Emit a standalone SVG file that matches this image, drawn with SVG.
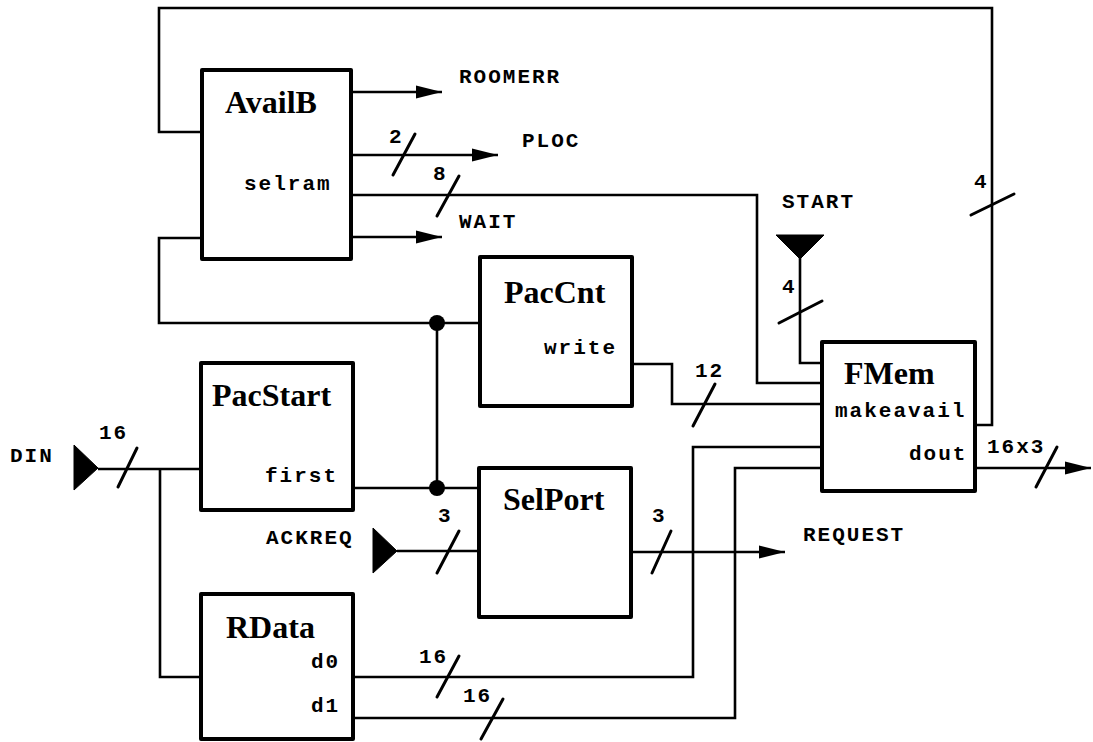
<svg xmlns="http://www.w3.org/2000/svg" width="1093" height="742" viewBox="0 0 1093 742">
<style>
.box{fill:#fff;stroke:#000;stroke-width:4;stroke-linejoin:round}
.w{fill:none;stroke:#000;stroke-width:2.6;stroke-linejoin:miter}
.sl{stroke:#000;stroke-width:3;stroke-linecap:round}
.t{font-family:"Liberation Serif","Times New Roman",serif;font-weight:bold;font-size:32px;fill:#000}
.m{font-family:"Liberation Mono","Courier New",monospace;font-weight:bold;font-size:21px;letter-spacing:2px;fill:#000}
.port{fill:#000;stroke:#000;stroke-width:1}
</style>
<defs>
<marker id="arr" viewBox="0 0 26 14" refX="26" refY="7" markerWidth="26" markerHeight="14" markerUnits="userSpaceOnUse" orient="auto">
<path d="M0,0.5 L26,7 L0,13.5 z" fill="#000"/>
</marker>
</defs>
<rect width="1093" height="742" fill="#fff"/>
<g id="connectors">
<path class="w" d="M975,425 H992 V8 H159 V132 H202"/>
<path class="w" d="M351,92 H442" marker-end="url(#arr)"/>
<path class="w" d="M351,155 H498" marker-end="url(#arr)"/>
<path class="w" d="M351,195 H757 V383 H822"/>
<path class="w" d="M351,237 H442" marker-end="url(#arr)"/>
<path class="w" d="M202,238 H159 V323 H480"/>
<path class="w" d="M437,323 V488"/>
<path class="w" d="M353,488 H479"/>
<path class="w" d="M632,364 H672 V404 H822"/>
<path class="w" d="M800,257 V363 H822"/>
<path class="w" d="M98,469 H201"/>
<path class="w" d="M160,469 V677 H201"/>
<path class="w" d="M397,551 H479"/>
<path class="w" d="M631,552 H785" marker-end="url(#arr)"/>
<path class="w" d="M353,677 H693 V447 H822"/>
<path class="w" d="M353,718 H735 V468 H822"/>
<path class="w" d="M975,468 H1091" marker-end="url(#arr)"/>
<circle cx="437" cy="323" r="8" fill="#000"/>
<circle cx="437" cy="488" r="8" fill="#000"/>
<line class="sl" x1="971" y1="215" x2="1014" y2="194"/>
<line class="sl" x1="393" y1="175" x2="415" y2="134"/>
<line class="sl" x1="437" y1="216" x2="459" y2="176"/>
<line class="sl" x1="693" y1="426" x2="715" y2="384"/>
<line class="sl" x1="779" y1="323" x2="822" y2="301"/>
<line class="sl" x1="118" y1="487" x2="137" y2="448"/>
<line class="sl" x1="437" y1="573" x2="459" y2="531"/>
<line class="sl" x1="652" y1="573" x2="671" y2="531"/>
<line class="sl" x1="437" y1="697" x2="459" y2="656"/>
<line class="sl" x1="481" y1="739" x2="503" y2="699"/>
<line class="sl" x1="1036" y1="487" x2="1057" y2="447"/>
<text class="m" x="974" y="188">4</text>
<text class="m" x="389" y="143">2</text>
<text class="m" x="433" y="180">8</text>
<text class="m" x="695" y="377">12</text>
<text class="m" x="782" y="293">4</text>
<text class="m" x="99" y="439">16</text>
<text class="m" x="438" y="522">3</text>
<text class="m" x="652" y="522">3</text>
<text class="m" x="419" y="663">16</text>
<text class="m" x="463" y="702">16</text>
<text class="m" x="987" y="453">16x3</text>
<text class="m" x="459" y="83">ROOMERR</text>
<text class="m" x="522" y="147">PLOC</text>
<text class="m" x="459" y="228">WAIT</text>
<text class="m" x="803" y="541">REQUEST</text>
</g>
<g id="DIN">
<polygon class="port" points="74,445 74,490 98,468"/>
<text class="m" x="10" y="462">DIN</text>
</g>
<g id="ACKREQ">
<polygon class="port" points="373,528 373,573 397,551"/>
<text class="m" x="266" y="544">ACKREQ</text>
</g>
<g id="START">
<polygon class="port" points="776,235 824,235 800,259"/>
<text class="m" x="782" y="208">START</text>
</g>
<g id="AvailB">
<rect class="box" x="202" y="70" width="149" height="189"/>
<text class="t" x="225" y="113">AvailB</text>
<text class="m" x="244" y="190">selram</text>
</g>
<g id="PacCnt">
<rect class="box" x="480" y="257" width="152" height="149"/>
<text class="t" x="504" y="303">PacCnt</text>
<text class="m" x="544" y="354">write</text>
</g>
<g id="PacStart">
<rect class="box" x="201" y="363" width="152" height="147"/>
<text class="t" x="212" y="406">PacStart</text>
<text class="m" x="265" y="482">first</text>
</g>
<g id="SelPort">
<rect class="box" x="479" y="468" width="152" height="149"/>
<text class="t" x="503" y="510">SelPort</text>
</g>
<g id="RData">
<rect class="box" x="201" y="594" width="152" height="145"/>
<text class="t" x="226" y="638">RData</text>
<text class="m" x="311" y="668">d0</text>
<text class="m" x="311" y="712">d1</text>
</g>
<g id="FMem">
<rect class="box" x="822" y="342" width="153" height="149"/>
<text class="t" x="844" y="384">FMem</text>
<text class="m" x="835" y="417">makeavail</text>
<text class="m" x="909" y="460">dout</text>
</g>
</svg>
